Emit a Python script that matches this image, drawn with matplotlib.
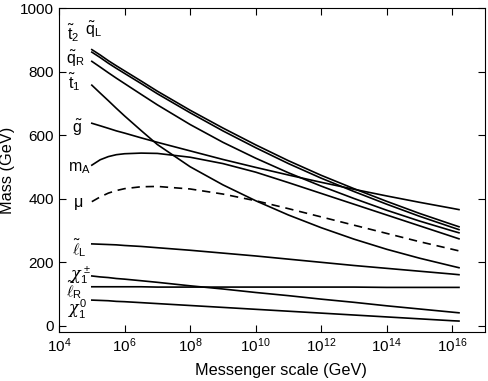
import numpy as np
import matplotlib
matplotlib.use("Agg")
import matplotlib.pyplot as plt

plt.rcParams['font.family'] = ['Liberation Sans', 'DejaVu Sans']
plt.rcParams['mathtext.fontset'] = 'custom'
plt.rcParams['mathtext.rm'] = 'Liberation Sans'
plt.rcParams['mathtext.it'] = 'DejaVu Serif:italic'
plt.rcParams['mathtext.bf'] = 'Liberation Sans:bold'

# messenger scale (GeV) sample points
messenger_scale = [1e5, 1.8e5, 3.2e5, 5.6e5, 1e6, 3.2e6, 1e7, 1e8, 1e9, 1e10,
                   1e11, 1e12, 1e13, 1e14, 1e15, 1e16, 1.6e16]

# masses (GeV)
mass_qL = [869, 852, 834, 818, 802, 770, 738, 678, 622, 569, 519, 473, 431, 391, 353, 318, 311]
mass_t2 = [861, 844, 826, 810, 794, 762, 730, 670, 613, 560, 510, 464, 422, 382, 344, 309, 302]
mass_qR = [832, 814, 796, 779, 762, 728, 695, 633, 577, 527, 481, 439, 400, 363, 329, 298, 292]
mass_t1 = [757, 732, 708, 684, 660, 614, 570, 500, 443, 393, 348, 308, 272, 240, 212, 187, 182]
mass_g = [637, 629, 621, 613, 606, 591, 577, 550, 523, 498, 474, 451, 429, 408, 388, 369, 365]
mass_mA = [505, 522, 532, 538, 541, 543, 542, 530, 510, 483, 450, 416, 382, 348, 314, 280, 273]
mass_mu = [390, 405, 417, 425, 431, 437, 438, 430, 414, 393, 368, 342, 316, 290, 264, 240, 235]
mass_lL = [257, 256, 255, 254, 252, 249, 245, 237, 228, 219, 209, 199, 189, 180, 171, 162, 160]
mass_chipm = [156, 153, 151, 148, 146, 141, 136, 125, 115, 104, 94, 83, 73, 62, 52, 42, 40]
mass_lR = [122, 122, 122, 122, 122, 122, 121, 121, 121, 121, 121, 121, 121, 120, 120, 120, 120]
mass_chi0 = [80, 79, 78, 76, 75, 72, 69, 63, 57, 51, 45, 39, 33, 27, 21, 15, 14]

solid_curves = [mass_qL, mass_t2, mass_qR, mass_t1, mass_g, mass_mA,
                mass_lL, mass_chipm, mass_lR, mass_chi0]

fig = plt.figure(figsize=(4.88, 3.81), dpi=100)
ax = fig.add_axes([0.121, 0.129, 0.873, 0.850])

for m in solid_curves:
    ax.plot(messenger_scale, m, color='black', lw=1.2)
ax.plot(messenger_scale, mass_mu, color='black', lw=1.2, linestyle=(0, (5, 3.5)))

# curve labels
labels = [
    (1.75e4, 922, r'$\tilde{\mathrm{t}}_2$'),
    (6.2e4, 930, r'$\tilde{\mathrm{q}}_\mathrm{L}$'),
    (1.6e4, 840, r'$\tilde{\mathrm{q}}_\mathrm{R}$'),
    (1.9e4, 766, r'$\tilde{\mathrm{t}}_1$'),
    (2.5e4, 621, r'$\tilde{\mathrm{g}}$'),
    (1.9e4, 495, r'$\mathrm{m}_\mathrm{A}$'),
    (2.7e4, 382, r'$\mathrm{\mu}$'),
    (2.5e4, 244, r'$\tilde{\ell}_\mathrm{L}$'),
    (2.2e4, 158, r'$\chi_1^\pm$'),
    (1.6e4, 110, r'$\tilde{\ell}_\mathrm{R}$'),
    (1.9e4, 52, r'$\chi_1^0$'),
]
for x, y, s in labels:
    ax.text(x, y, s, fontsize=11.5, ha='left', va='center')

ax.set_xscale('log')
ax.set_xlim(1e4, 1e17)
ax.set_ylim(-20, 1000)
ax.set_xticks([1e4, 1e6, 1e8, 1e10, 1e12, 1e14, 1e16])
ax.xaxis.set_minor_locator(matplotlib.ticker.NullLocator())
ax.set_yticks([0, 200, 400, 600, 800, 1000])
ax.tick_params(which='both', direction='in', top=True, right=True,
               length=5, width=0.8, labelsize=11)
ax.set_xlabel('Messenger scale (GeV)', fontsize=11.7, labelpad=7)
ax.xaxis.set_label_coords(0.52, -0.095)
ax.set_ylabel('Mass (GeV)', fontsize=11.7)

fig.savefig('out.png', dpi=100)
